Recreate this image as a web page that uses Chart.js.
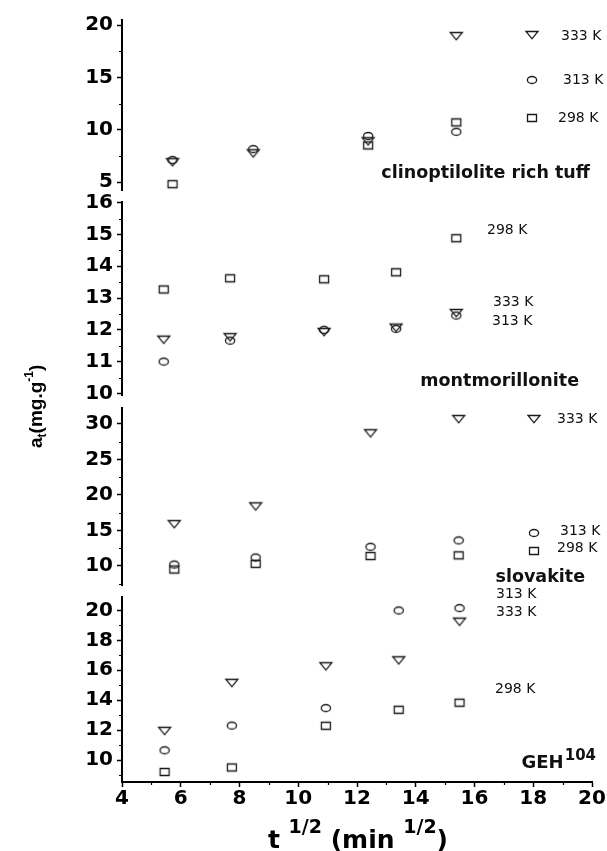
<!DOCTYPE html>
<html>
<head>
<meta charset="utf-8">
<script src="https://cdn.jsdelivr.net/npm/chart.js@4.4.1/dist/chart.umd.min.js"></script>
<style>
  html, body { margin: 0; background: #fff; }
  #wrap { position: relative; width: 607px; height: 851px; }
  #wrap canvas { position: absolute; left: 0; top: 0; }
</style>
</head>
<body>
<div id="wrap">
  <canvas id="tuff" width="607" height="851"></canvas>
  <canvas id="mont" width="607" height="851"></canvas>
  <canvas id="slov" width="607" height="851"></canvas>
  <canvas id="geh" width="607" height="851"></canvas>
</div>
<script>
// shared x axis: t^1/2 (min^1/2)
const xTicks = [4, 6, 8, 10, 12, 14, 16, 18, 20];

// clinoptilolite rich tuff
const tuffX = [5.72, 8.47, 12.38, 15.38];
const tuff333 = [6.9, 7.75, 8.9, 18.95];
const tuff313 = [7.1, 8.15, 9.4, 9.8];
const tuff298 = [4.8, null, 8.5, 10.7];
const tuffTicks = [5, 10, 15, 20];

// montmorillonite
const montX = [5.42, 7.68, 10.88, 13.33, 15.38];
const mont298 = [13.27, 13.62, 13.59, 13.81, 14.88];
const mont333 = [11.69, 11.77, 11.93, 12.07, 12.53];
const mont313 = [11.0, 11.66, 12.0, 12.03, 12.45];
const montTicks = [10, 11, 12, 13, 14, 15, 16];

// slovakite
const slovX = [5.78, 8.55, 12.46, 15.46];
const slov333 = [15.9, 18.4, 28.7, 30.7];
const slov313 = [10.2, 11.2, 12.7, 13.6];
const slov298 = [9.5, 10.3, 11.4, 11.5];
const slovTicks = [10, 15, 20, 25, 30];

// GEH104
const gehX = [5.45, 7.74, 10.94, 13.42, 15.49];
const geh333 = [11.95, 15.16, 16.27, 16.67, 19.25];
const geh313 = [10.65, 12.3, 13.47, 20.0, 20.16];
const geh298 = [9.2, 9.5, 12.29, 13.36, 13.83];
const gehTicks = [10, 12, 14, 16, 18, 20];

// open markers, drawn a bit wider than tall like the original
function marker(kind) {
  const c = document.createElement('canvas');
  c.width = 16; c.height = 12;
  const g = c.getContext('2d');
  g.strokeStyle = '#1a1a1a';
  g.lineWidth = 1.3;
  g.beginPath();
  if (kind === 'tri') { g.moveTo(2, 2.5); g.lineTo(14, 2.5); g.lineTo(8, 9.8); g.closePath(); }
  else if (kind === 'circ') g.ellipse(8, 6, 4.6, 3.5, 0, 0, Math.PI * 2);
  else g.rect(3.5, 2.5, 9, 7);
  g.stroke();
  return c;
}
const TRI = marker('tri'), CIRC = marker('circ'), SQ = marker('sq');

function series(xs, ys, img) {
  return {
    data: xs.map((x, i) => ({ x: x, y: ys[i] })),
    pointStyle: img, pointRadius: 6, showLine: false, clip: false
  };
}

function text(ctx, s, x, y, font, align) {
  ctx.font = font;
  ctx.textAlign = align || 'left';
  ctx.textBaseline = 'middle';
  ctx.fillStyle = '#111';
  ctx.fillText(s, x, y);
}

const tickFont = { family: 'DejaVu Sans', weight: 'bold', size: 20 };
const labelFont = 'bold 17.5px "DejaVu Sans"';
const legFont = '14px "DejaVu Sans"';

function panel(id, top, bottom, yMin, yMax, yTicks, datasets, showX, draw) {
  const minor = {
    id: 'minor',
    afterDraw(chart) {
      const ctx = chart.ctx, ca = chart.chartArea, ys = chart.scales.y;
      const step = yTicks[1] - yTicks[0];
      ctx.save();
      ctx.strokeStyle = '#000';
      ctx.lineWidth = 1.2;
      ctx.beginPath();
      for (let v = yTicks[0] - step / 2; v <= yMax; v += step) {
        if (v < yMin) continue;
        const py = Math.round(ys.getPixelForValue(v)) + 0.5;
        ctx.moveTo(ca.left - 3, py); ctx.lineTo(ca.left, py);
      }
      if (showX) {
        const xs = chart.scales.x;
        for (let v = 5; v < 20; v += 2) {
          const px = Math.round(xs.getPixelForValue(v)) + 0.5;
          ctx.moveTo(px, ca.bottom); ctx.lineTo(px, ca.bottom + 3);
        }
      }
      ctx.stroke();
      ctx.restore();
    }
  };
  const notes = {
    id: 'notes',
    afterDraw(chart) {
      const ctx = chart.ctx;
      ctx.save();
      draw(ctx, chart);
      ctx.restore();
    }
  };
  return new Chart(document.getElementById(id), {
    type: 'scatter',
    data: { datasets: datasets },
    options: {
      responsive: false,
      animation: false,
      events: [],
      layout: { padding: { left: 0, right: 15, top: top, bottom: showX ? 851 - bottom - 50 : 851 - bottom } },
      plugins: { legend: { display: false }, tooltip: { enabled: false } },
      scales: {
        x: {
          type: 'linear', min: 4, max: 20, display: showX,
          afterBuildTicks: s => { s.ticks = xTicks.map(v => ({ value: v })); },
          afterFit: s => { if (showX) s.height = 50; },
          grid: { drawOnChartArea: false, tickLength: 5, tickColor: '#000', tickWidth: 1.5 },
          border: { display: true, color: '#000', width: 2 },
          ticks: { color: '#000', font: tickFont, padding: 0, maxRotation: 0, autoSkip: false }
        },
        y: {
          type: 'linear', min: yMin, max: yMax,
          afterBuildTicks: s => { s.ticks = yTicks.map(v => ({ value: v })); },
          afterFit: s => { s.width = 122; },
          grid: { drawOnChartArea: false, tickLength: 5, tickColor: '#000', tickWidth: 1.5 },
          border: { display: true, color: '#000', width: 2 },
          ticks: { color: '#000', font: tickFont, padding: 4, autoSkip: false }
        }
      }
    },
    plugins: [minor, notes]
  });
}

function legendMark(ctx, chart, img, x, y) {
  const px = chart.scales.x.getPixelForValue(x), py = chart.scales.y.getPixelForValue(y);
  ctx.drawImage(img, Math.round(px - img.width / 2), Math.round(py - img.height / 2));
}

panel('tuff', 20, 190, 4.24, 20.48, tuffTicks,
  [series(tuffX, tuff333, TRI), series(tuffX, tuff313, CIRC), series(tuffX, tuff298, SQ)], false,
  (ctx, chart) => {
    legendMark(ctx, chart, TRI, 17.95, 19.0);
    legendMark(ctx, chart, CIRC, 17.95, 14.75);
    legendMark(ctx, chart, SQ, 17.95, 11.1);
    text(ctx, '333 K', 561, 36, legFont);
    text(ctx, '313 K', 563, 80, legFont);
    text(ctx, '298 K', 558, 118, legFont);
    text(ctx, 'clinoptilolite rich tuff', 590, 173, labelFont, 'right');
  });

panel('mont', 202, 395, 9.95, 16.02, montTicks,
  [series(montX, mont298, SQ), series(montX, mont333, TRI), series(montX, mont313, CIRC)], false,
  (ctx) => {
    text(ctx, '298 K', 487, 230, legFont);
    text(ctx, '333 K', 493, 302, legFont);
    text(ctx, '313 K', 492, 321, legFont);
    text(ctx, 'montmorillonite', 579, 381, labelFont, 'right');
  });

panel('slov', 408, 585, 7.32, 32.25, slovTicks,
  [series(slovX, slov333, TRI), series(slovX, slov313, CIRC), series(slovX, slov298, SQ)], false,
  (ctx, chart) => {
    legendMark(ctx, chart, TRI, 18.03, 30.75);
    legendMark(ctx, chart, CIRC, 18.03, 14.7);
    legendMark(ctx, chart, SQ, 18.03, 12.1);
    text(ctx, '333 K', 557, 419, legFont);
    text(ctx, '313 K', 560, 531, legFont);
    text(ctx, '298 K', 557, 548, legFont);
    text(ctx, 'slovakite', 585, 577, labelFont, 'right');
    // y axis title: a_t (mg.g^-1), rotated
    ctx.translate(42, 448);
    ctx.rotate(-Math.PI / 2);
    ctx.fillStyle = '#000';
    ctx.textAlign = 'left';
    ctx.textBaseline = 'alphabetic';
    let x = 0;
    const parts = [['a', 19, 0], ['t', 12, 4], ['(mg.g', 19, 0], ['-1', 12, -9], [')', 19, 0]];
    parts.forEach(p => {
      ctx.font = 'bold ' + p[1] + 'px "Liberation Sans"';
      ctx.fillText(p[0], x, p[2]);
      x += ctx.measureText(p[0]).width;
    });
  });

panel('geh', 597, 782, 8.53, 20.9, gehTicks,
  [series(gehX, geh333, TRI), series(gehX, geh313, CIRC), series(gehX, geh298, SQ)], true,
  (ctx) => {
    text(ctx, '313 K', 496, 594, legFont);
    text(ctx, '333 K', 496, 612, legFont);
    text(ctx, '298 K', 495, 689, legFont);
    // GEH^104
    ctx.fillStyle = '#111';
    ctx.textBaseline = 'alphabetic';
    ctx.textAlign = 'left';
    ctx.font = 'bold 15px "DejaVu Sans"';
    const supW = ctx.measureText('104').width;
    ctx.font = 'bold 18px "DejaVu Sans"';
    const gehW = ctx.measureText('GEH').width;
    const x0 = 595 - supW - gehW;
    ctx.fillText('GEH', x0, 768);
    ctx.font = 'bold 15px "DejaVu Sans"';
    ctx.fillText('104', x0 + gehW + 1, 760);
    // x axis title: t^1/2 (min^1/2)
    const parts = [['t ', 25, 0], ['1/2', 19, -15], [' (min ', 25, 0], ['1/2', 19, -15], [')', 25, 0]];
    let total = 0;
    parts.forEach(p => { ctx.font = 'bold ' + p[1] + 'px "DejaVu Sans"'; total += ctx.measureText(p[0]).width; });
    let x = 358 - total / 2;
    ctx.fillStyle = '#000';
    parts.forEach(p => {
      ctx.font = 'bold ' + p[1] + 'px "DejaVu Sans"';
      ctx.fillText(p[0], x, 848 + p[2]);
      x += ctx.measureText(p[0]).width;
    });
  });
</script>
</body>
</html>
